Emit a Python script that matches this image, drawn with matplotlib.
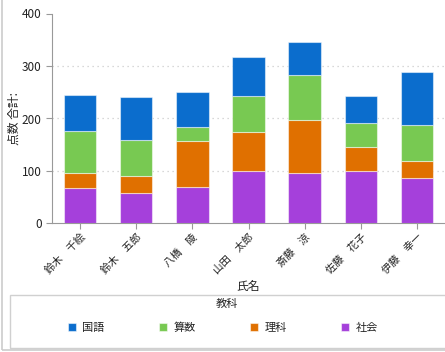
import matplotlib
matplotlib.use("Agg")
import matplotlib.pyplot as plt
from matplotlib.patches import Rectangle
import numpy as np

plt.rcParams["font.family"] = ["Noto Sans CJK JP", "DejaVu Sans"]

# ─── data ─────────────────────────────────────────────────────────────────────
names = ["鈴木　千絵", "鈴木　五郎", "八橋　陵", "山田　太郎", "斎藤　涼", "佐藤　花子", "伊藤　幸一"]
shakai = [67, 58, 69, 100, 97, 100, 86]   # 社会
rika   = [30, 33, 89, 74, 100, 46, 33]    # 理科
sansu  = [80, 68, 26, 69, 85, 45, 68]     # 算数
kokugo = [68, 81, 66, 74, 63, 52, 101]    # 国語
yticks = [0, 100, 200, 300, 400]

series = [
    ("社会", shakai, "#a540db"),
    ("理科", rika,   "#e07000"),
    ("算数", sansu,  "#78c952"),
    ("国語", kokugo, "#0b6dcd"),
]

W, H = 445, 352
fig = plt.figure(figsize=(W / 100, H / 100), dpi=100)
ax = fig.add_axes([52 / W, 1 - 223.5 / H, 393 / W, 210 / H])

x = np.arange(len(names))
bottom = np.zeros(len(names))
handles = {}
for label, vals, color in series:
    vals = np.array(vals, dtype=float)
    h = ax.bar(x, vals, 0.58, bottom=bottom, color=color,
               edgecolor=(1, 1, 1, 0.5), linewidth=0.8, zorder=3)
    handles[label] = h
    bottom += vals

ax.set_xlim(-0.5, len(names) - 0.5)
ax.set_ylim(0, 400)
ax.set_yticks(yticks)
ax.set_yticklabels([str(v) for v in yticks], fontsize=8.5, color="#222222")
ax.set_xticks(x)
ax.set_xticklabels(names, rotation=45, ha="right", rotation_mode="anchor",
                   fontsize=7.5, color="#222222")
ax.tick_params(axis="both", color="#999999", length=4)
ax.tick_params(axis="x", pad=2)

for v in yticks[1:-1]:
    ax.axhline(v, color="#cccccc", linestyle=(0, (1, 3)), linewidth=0.9, zorder=1)

for s in ["top", "right"]:
    ax.spines[s].set_visible(False)
for s in ["left", "bottom"]:
    ax.spines[s].set_color("#999999")

ax.set_ylabel("点数 合計:", fontsize=8.5, color="#222222")
ax.yaxis.set_label_coords((21 - 52) / 393, 0.5)
ax.set_xlabel("氏名", fontsize=8.5, color="#222222", labelpad=3)

# legend: frame, title and entries
fig.patches.append(Rectangle((10 / W, 1 - 348 / H), 440 / W, 53 / H, transform=fig.transFigure,
                             fill=False, edgecolor="#d0d0d0", linewidth=1.0))
fig.text(227 / W, 1 - 304 / H, "教科", ha="center", va="center", fontsize=8, color="#222222")
order = ["国語", "算数", "理科", "社会"]
leg = fig.legend([handles[k] for k in order], order,
                 loc="center left", bbox_to_anchor=(68 / W, 1 - 328 / H),
                 ncol=4, fontsize=8, frameon=False,
                 handlelength=0.7, handleheight=0.7, handletextpad=0.6,
                 borderaxespad=0, borderpad=0, columnspacing=4.9)
for t in leg.get_texts():
    t.set_color("#222222")

# outer frame of the figure
fig.patches.append(Rectangle((2 / W, 2 / H), 1, 1, transform=fig.transFigure,
                             fill=False, edgecolor="#cccccc", linewidth=1.2))

fig.savefig("out.png", dpi=100)
